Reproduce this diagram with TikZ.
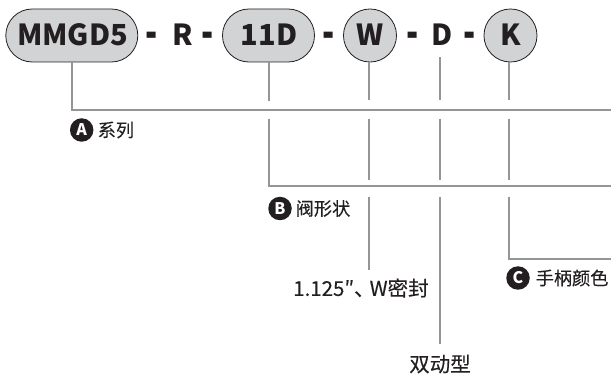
\documentclass[tikz,border=0pt]{standalone}
\usepackage{fontspec}
\usepackage{graphicx}
\setmainfont{Noto Sans CJK SC}
\newfontfamily\labfont[FakeBold=0.25]{Noto Sans CJK SC}
\definecolor{ink}{HTML}{231F20}
\definecolor{pill}{HTML}{D1D3D4}
\definecolor{rule}{HTML}{939598}
\newcommand{\thickdash}{\scalebox{1.1}[1.7]{-}}
\tikzset{
  x=1pt,y=-1pt,
  codebox/.style={draw=ink,line width=0.8pt,fill=pill,rounded corners=26.4pt,text=ink,inner sep=0pt,minimum height=53pt},
  codetext/.style={text=ink,inner sep=0pt,anchor=base,font=\fontsize{29}{29}\selectfont\bfseries},
  badge/.style={circle,fill=ink,text=white,inner sep=0pt,minimum size=23.5pt,font=\fontsize{16}{16}\selectfont\bfseries},
  lab/.style={text=ink,inner sep=0pt,font=\fontsize{18.2}{18}\labfont\selectfont},
  labbig/.style={text=ink,inner sep=0pt,font=\fontsize{20.5}{20}\labfont\selectfont},
  wire/.style={draw=rule,line width=2pt}
}
\begin{document}
\begin{tikzpicture}
\useasboundingbox (0,0) rectangle (611,374);
\node[codebox,minimum width=132pt] (a) at (71.8,35.5) {};
\node[codebox,minimum width=92pt] (b) at (268.5,35.5) {};
\node[codebox,minimum width=53pt] (w) at (370,35.5) {};
\node[codebox,minimum width=53pt] (k) at (510.5,35.5) {};
\node[codetext] (ta) at (72.5,45.5) {MMGD5};
\node[codetext] (d1) at (152,50) {\thickdash};
\node[codetext] (r) at (182.5,45.5) {R};
\node[codetext] (d2) at (208,50) {\thickdash};
\node[codetext] (tb) at (269,45.5) {11D};
\node[codetext] (d3) at (329,50) {\thickdash};
\node[codetext] (tw) at (370,45.5) {W};
\node[codetext] (d4) at (413,50) {\thickdash};
\node[codetext] (dd) at (442,45.5) {D};
\node[codetext] (d5) at (470,50) {\thickdash};
\node[codetext] (tk) at (510.5,45.5) {K};

\node[badge] (ba) at (81.7,130) {A};
\node[lab,anchor=west] (la) at (97.5,130) {系列};
\node[badge] (bb) at (280,208.5) {B};
\node[lab,anchor=west] (lb) at (295.5,208.5) {阀形状};
\node[labbig,anchor=west] (lw) at (293,288) {1.125″、\hspace{-5pt}W密封};
\node[labbig] (ld) at (440,364) {双动型};
\node[badge] (bc) at (518,278) {C};
\node[lab,anchor=west] (lc) at (535.5,278) {手柄颜色};

\coordinate (ae) at (611,110);
\coordinate (be) at (611,186);
\coordinate (ce) at (611,259);
\draw[wire] (a.south) |- (ae);
\draw[wire] (b.south) -- ++(0,38.5);
\draw[wire] (268.5,119) |- (be);
\foreach \x in {368.5,509.3}{
  \draw[wire] (\x,62) -- (\x,100.5);
  \draw[wire] (\x,119) -- (\x,180);
}
\draw[wire] (368.5,197) -- (368.5,270.5);
\draw[wire] (439.7,57) -- (439.7,100.5);
\draw[wire] (439.7,119) -- (439.7,180);
\draw[wire] (439.7,197) -- (439.7,344);
\draw[wire] (509.3,197) |- (ce);
\end{tikzpicture}
\end{document}
